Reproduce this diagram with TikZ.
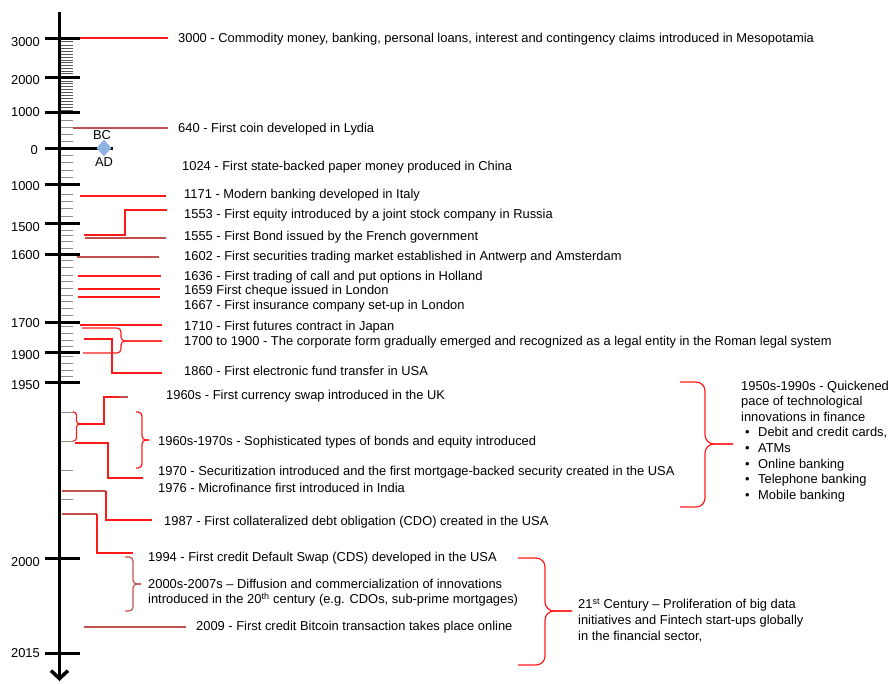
\documentclass[tikz,border=0pt]{standalone}
\usepackage{fontspec}
\setmainfont{Liberation Sans}
\usetikzlibrary{arrows.meta,shapes.geometric}
\definecolor{lred}{HTML}{FF1A1A}
\definecolor{dred}{HTML}{C0504D}
\definecolor{tickgray}{HTML}{8C8C8C}
\definecolor{tickdark}{HTML}{555555}
\definecolor{dia}{HTML}{8DB3E2}
\begin{document}
\begin{tikzpicture}[x=1pt,y=-1pt,
  fnt/.style={font=\fontsize{12.9}{15.6}\selectfont},
  txt/.style={fnt,anchor=west,inner sep=0pt,text height=9.2pt,text depth=0pt},
  ml/.style={fnt,anchor=north west,inner sep=0pt,align=left},
  yr/.style={fnt,anchor=east,inner sep=0pt,text height=9.2pt,text depth=0pt},
  rl/.style={draw=lred,line width=1.2pt},
  dl/.style={draw=dred,line width=1.2pt},
  brc/.style={draw=lred,line width=1.2pt,rounded corners=#1},
  major/.style={draw=black,line width=3pt},
  minor/.style={draw=tickgray,line width=1pt},
  minordk/.style={draw=tickdark,line width=0.9pt}]
\useasboundingbox (0,0) rectangle (888,683);

% ---------- minor ticks ----------
\foreach \y in {41.7,45,48.3,51.7,54.3,57.3,60,62.7,65.7,68.3,71,73.5}
  \draw[minordk] (61,\y) -- (73,\y);
\foreach \y in {81,83.9,...,110}
  \draw[minordk] (61,\y) -- (73,\y);
\foreach \y in {120,127,134,141,155,162.5,170,177.5,194,201.5,208,216.5,230,235,241.5,248,260,267.5,275,281.5,288.5,295,301.5,308.5,315,326.5,333.5,340,346.5,356.5,363.5,370,376.5,412,441,470,499}
  \draw[minor] (61,\y) -- (73,\y);

% ---------- axis ----------
\coordinate (axtop) at (59.5,12);
\coordinate (axbot) at (59.5,681);
\draw[line width=3.5pt,-{Straight Barb[length=8pt,width=17pt]}] (axtop) -- (axbot);

% ---------- major ticks and year labels ----------
\foreach \t/\l/\n in {38/41.7/3000,77/80/2000,112/112/1000,184/186/1000,223/227/1500,254/255/1600,322/323/1700,352/355/1900,382/385/1950,558/562/2000,653/653/2015}
  {\draw[major] (45,\t) -- (80,\t);
   \node[yr] at (40,\l) {\n};}
\draw[major] (45,148) -- (113,148);
\node[yr] (y0) at (38,150) {0};

% BC / AD marker
\node[diamond,fill=dia,minimum width=15pt,minimum height=17pt,inner sep=0pt] (dmd) at (104,148) {};
\node[fnt,inner sep=0pt,text height=9.2pt,text depth=0pt] (bc) at (102,134.5) {BC};
\node[fnt,inner sep=0pt,text height=9.2pt,text depth=0pt] (ad) at (104,161.5) {AD};

% ---------- event texts ----------
\node[txt] (e3000) at (178,38) {3000 - Commodity money, banking, personal loans, interest and contingency claims introduced in Mesopotamia};
\node[txt] (e640) at (178,128) {640 - First coin developed in Lydia};
\node[txt] (e1024) at (182,166) {1024 - First state-backed paper money produced in China};
\node[txt] (e1171) at (184,194) {1171 - Modern banking developed in Italy};
\node[txt] (e1553) at (184,214) {1553 - First equity introduced by a joint stock company in Russia};
\node[txt] (e1555) at (184,236) {1555 - First Bond issued by the French government};
\node[txt] (e1602) at (184,256) {1602 - First securities trading market established in Antwerp and Amsterdam};
\node[txt] (e1636) at (184,276) {1636 - First trading of call and put options in Holland};
\node[txt] (e1659) at (184,290) {1659 First cheque issued in London};
\node[txt] (e1667) at (184,305) {1667 - First insurance company set-up in London};
\node[txt] (e1710) at (184,326) {1710 - First futures contract in Japan};
\node[txt] (e1700) at (184,341) {1700 to 1900 - The corporate form gradually emerged and recognized as a legal entity in the Roman legal system};
\node[txt] (e1860) at (184,371) {1860 - First electronic fund transfer in USA};
\node[txt] (e1960) at (166,395) {1960s - First currency swap introduced in the UK};
\node[txt] (e1960b) at (158,441) {1960s-1970s - Sophisticated types of bonds and equity introduced};
\node[txt] (e1970) at (158,471) {1970 - Securitization introduced and the first mortgage-backed security created in the USA};
\node[txt] (e1976) at (158,488) {1976 - Microfinance first introduced in India};
\node[txt] (e1987) at (164,521) {1987 - First collateralized debt obligation (CDO) created in the USA};
\node[txt] (e1994) at (148,557) {1994 - First credit Default Swap (CDS) developed in the USA};
\node[ml] (e2000) at (148,578.5) {2000s-2007s -- Diffusion and commercialization of innovations\\introduced in the 20\textsuperscript{th} century (e.g. CDOs, sub-prime mortgages)};
\node[txt] (e2009) at (196,626) {2009 - First credit Bitcoin transaction takes place online};
\node[ml] (e21) at (578,598.5) {21\textsuperscript{st} Century -- Proliferation of big data\\initiatives and Fintech start-ups globally\\in the financial sector,};
\node[ml] (e1950) at (741,380.5) {1950s-1990s - Quickened\\pace of technological\\innovations in finance\\
\makebox[17pt][l]{\hspace{4pt}•}Debit and credit cards,\\
\makebox[17pt][l]{\hspace{4pt}•}ATMs\\
\makebox[17pt][l]{\hspace{4pt}•}Online banking\\
\makebox[17pt][l]{\hspace{4pt}•}Telephone banking\\
\makebox[17pt][l]{\hspace{4pt}•}Mobile banking};

% ---------- connectors ----------
\draw[rl] (80,38) -- (168,38);
\draw[dl] (73,128) -- (168,128);
\draw[rl] (80,196) -- (166,196);
\draw[rl] (84,235) -- (125,235) -- (125,210) -- (167,210);
\draw[dl] (85,238) -- (166,238);
\draw[dl] (77,257) -- (159,257);
\draw[rl] (78,276) -- (161,276);
\draw[rl] (78,289) -- (160,289);
\draw[rl] (78,297) -- (160,297);
\draw[rl] (80,325) -- (162,325);
% 1700 to 1900 brace
\draw[brc=4] (82,328) -- (121,328) -- (121,341) -- (162,341);
\draw[brc=4] (83,353) -- (121,353) -- (121,341) -- (162,341);
% 1860
\draw[rl] (84,339) -- (112,339) -- (112,373) -- (162,373);
% 1960s small brace and connector
\draw[brc=3] (73,412) -- (76.5,412) -- (76.5,424) -- (79,424);
\draw[brc=3] (73,441) -- (76.5,441) -- (76.5,424) -- (79,424);
\draw[rl] (79,424) -- (104,424) -- (104,397) -- (120,397);
\draw[dl] (119,397) -- (128,397);
% 1960s-1970s brace
\draw[brc=4] (136,412) -- (142,412) -- (142,440) -- (149,440);
\draw[brc=4] (136,468) -- (142,468) -- (142,440) -- (149,440);
% 1970
\draw[rl] (75,443) -- (108,443) -- (108,478) -- (143,478);
% 1987
\draw[dl] (62,491) -- (106,491);
\draw[rl] (106,491) -- (106,520) -- (152,520);
% 1994
\draw[dl] (62,514) -- (97,514);
\draw[rl] (97,514) -- (97,553) -- (133,553);
% 2000s brace
\draw[brc=4,draw=dred] (125,557) -- (133,557) -- (133,584) -- (141,584);
\draw[brc=4,draw=dred] (125,611) -- (133,611) -- (133,584) -- (141,584);
% 2009
\draw[dl] (84,627) -- (186,627);
% big braces
\draw[brc=9] (680,382) -- (705,382) -- (705,444) -- (733,444);
\draw[brc=9] (680,507) -- (705,507) -- (705,444) -- (733,444);
\draw[brc=9] (518,558) -- (545,558) -- (545,611) -- (572,611);
\draw[brc=9] (518,665) -- (545,665) -- (545,611) -- (572,611);
\end{tikzpicture}
\end{document}
